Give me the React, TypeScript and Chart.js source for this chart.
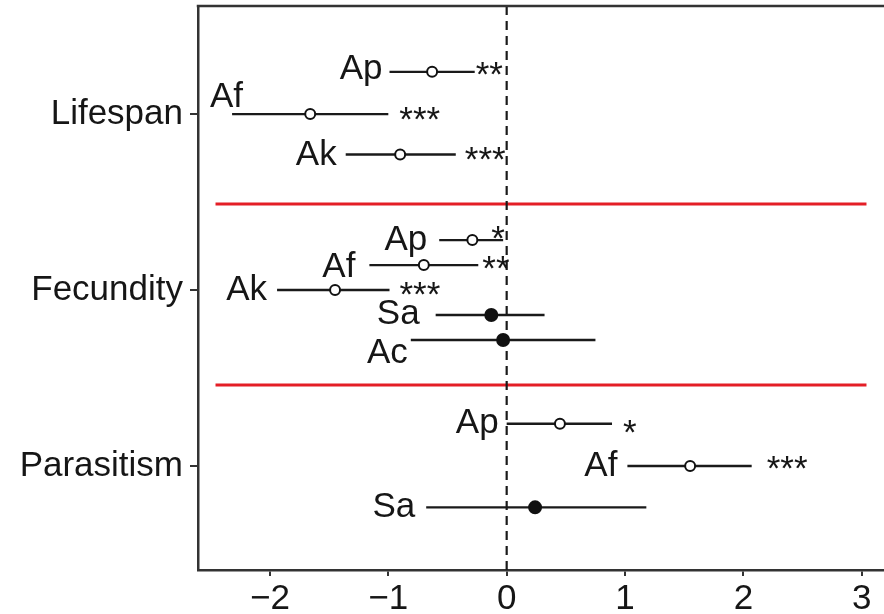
import React, { useEffect, useRef } from "react";
import { Chart, registerables } from "chart.js";
Chart.register(...registerables);

// ---- data ----
const groups = ["Lifespan", "Fecundity", "Parasitism"];
const groupPos = [3, 2, 1];
const xTicks = [-2, -1, 0, 1, 2, 3];

const species = ["Ap", "Af", "Ak", "Ap", "Af", "Ak", "Sa", "Ac", "Ap", "Af", "Sa"];
const rowPos = [3.24, 3.0, 2.77, 2.284, 2.142, 2.0, 1.858, 1.716, 1.24, 1.0, 0.765];
const estimate = [-0.63, -1.66, -0.9, -0.29, -0.7, -1.45, -0.13, -0.03, 0.45, 1.55, 0.24];
const lower = [-0.99, -2.32, -1.36, -0.57, -1.16, -1.94, -0.6, -0.81, 0.0, 1.02, -0.68];
const upper = [-0.27, -1.0, -0.43, -0.03, -0.24, -0.99, 0.32, 0.75, 0.89, 2.07, 1.18];
const signif = ["**", "***", "***", "*", "**", "***", "", "", "*", "***", ""];

const separators = [2.489, 1.46];
const separatorFrom = -2.46;
const separatorTo = 3.04;

// ---- styling (pixel offsets of text annotations) ----
const labelGap = [7, -11, 9, 12, 14, 10, 16, 3, 8, 10, 11];
const labelDy = [-2, -17, 1, 0, 2, 0, -1, 13, 0, 0, 0];
const starGap = [1, 11, 9, -12, 4, 10, 0, 0, 11, 15, 0];
const starDy = [-2, 0, 0, -7, -2, -1, 0, 0, 4, -3, 0];

const X_MIN = -2.608;
const X_MAX = 3.188;
const Y_MIN = 0.409;
const Y_MAX = 3.614;

const FONT = "'Liberation Sans', Arial, Helvetica, sans-serif";
const FONT_SIZE = 35;
const STAR_SHIFT = 7;

export default function App() {
  const ref = useRef<HTMLCanvasElement>(null);

  useEffect(() => {
    if (!ref.current) return;
    const datasets: any[] = [];
    datasets.push({
      data: estimate.map((e, i) => ({ x: e, y: rowPos[i] })),
      pointRadius: signif.map((s) => (s ? 5 : 6)),
      pointBackgroundColor: signif.map((s) => (s ? "#ffffff" : "#111111")),
      pointBorderColor: "#111111",
      pointBorderWidth: 2,
      order: 0,
    });
    estimate.forEach((_, i) => {
      datasets.push({
        data: [
          { x: lower[i], y: rowPos[i] },
          { x: upper[i], y: rowPos[i] },
        ],
        showLine: true,
        borderColor: "#1a1a1a",
        borderWidth: 2.3,
        pointRadius: 0,
        order: 1,
      });
    });
    datasets.push({
      data: [
        { x: 0, y: Y_MIN },
        { x: 0, y: Y_MAX },
      ],
      showLine: true,
      borderColor: "#1a1a1a",
      borderWidth: 2.2,
      borderDash: [9, 6],
      pointRadius: 0,
      order: 2,
    });
    separators.forEach((s) => {
      datasets.push({
        data: [
          { x: separatorFrom, y: s },
          { x: separatorTo, y: s },
        ],
        showLine: true,
        borderColor: "#e41e26",
        borderWidth: 3,
        pointRadius: 0,
        order: 3,
      });
    });

    const annot = {
      id: "annot",
      afterDatasetsDraw(chart: any) {
        const { ctx, scales, chartArea } = chart;
        const x = scales.x;
        const y = scales.y;
        ctx.save();
        ctx.font = `${FONT_SIZE}px ${FONT}`;
        ctx.fillStyle = "#161616";
        ctx.textBaseline = "middle";
        species.forEach((sp, i) => {
          const py = y.getPixelForValue(rowPos[i]);
          ctx.textAlign = "right";
          ctx.fillText(sp, x.getPixelForValue(lower[i]) - labelGap[i], py + labelDy[i]);
          if (signif[i]) {
            ctx.textAlign = "left";
            ctx.fillText(
              signif[i],
              x.getPixelForValue(upper[i]) + starGap[i],
              py + starDy[i] + STAR_SHIFT
            );
          }
        });
        ctx.strokeStyle = "#333333";
        ctx.lineWidth = 2.5;
        ctx.beginPath();
        ctx.moveTo(chartArea.left - 1.25, chartArea.top);
        ctx.lineTo(chartArea.right + 2, chartArea.top);
        ctx.stroke();
        ctx.restore();
      },
    };

    const chart = new Chart(ref.current, {
      type: "scatter",
      data: { datasets },
      plugins: [annot],
      options: {
        animation: false,
        responsive: true,
        maintainAspectRatio: false,
        events: [],
        layout: { autoPadding: false, padding: { top: 6, left: 0, right: 0, bottom: 0 } },
        plugins: {
          legend: { display: false },
          tooltip: { enabled: false },
          title: { display: false },
        },
        scales: {
          x: {
            type: "linear",
            min: X_MIN,
            max: X_MAX,
            afterBuildTicks: (scale: any) => {
              scale.ticks = xTicks.map((v) => ({ value: v }));
            },
            afterFit: (scale: any) => {
              scale.height = 44;
              scale.paddingLeft = 0;
              scale.paddingRight = 0;
            },
            border: { display: true, color: "#333333", width: 2.5 },
            grid: {
              drawOnChartArea: false,
              drawTicks: true,
              tickLength: 6,
              color: "#333333",
              lineWidth: 2,
            },
            ticks: {
              autoSkip: false,
              maxRotation: 0,
              padding: 2,
              color: "#161616",
              font: { family: FONT, size: FONT_SIZE },
              callback: (v: any) => (v < 0 ? "\u2212" + Math.abs(v) : String(v)),
            },
          },
          y: {
            type: "linear",
            min: Y_MIN,
            max: Y_MAX,
            afterBuildTicks: (scale: any) => {
              scale.ticks = groupPos.map((v) => ({ value: v }));
            },
            afterFit: (scale: any) => {
              scale.width = 198;
              scale.paddingTop = 0;
              scale.paddingBottom = 0;
            },
            border: { display: true, color: "#333333", width: 2.5 },
            grid: {
              drawOnChartArea: false,
              drawTicks: true,
              tickLength: 8,
              color: "#333333",
              lineWidth: 2,
            },
            ticks: {
              autoSkip: false,
              padding: 7,
              color: "#161616",
              font: { family: FONT, size: FONT_SIZE },
              callback: (v: any) => {
                const idx = groupPos.indexOf(v);
                return idx >= 0 ? groups[idx] : "";
              },
            },
          },
        },
      },
    });
    return () => chart.destroy();
  }, []);

  return (
    <div style={{ position: "absolute", left: 0, top: 0, width: 884, height: 614, background: "#ffffff" }}>
      <canvas ref={ref} />
    </div>
  );
}
